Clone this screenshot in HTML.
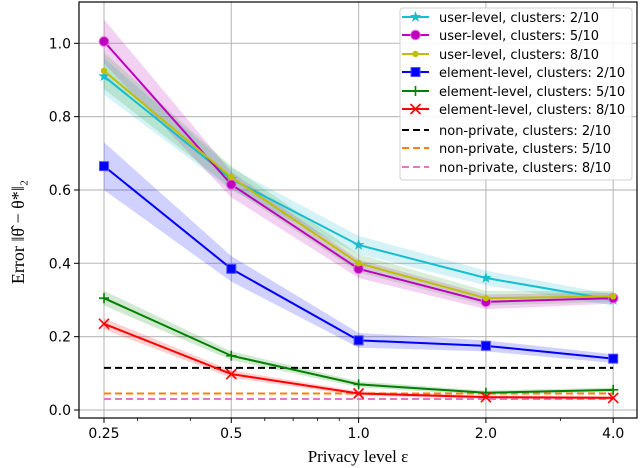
<!DOCTYPE html>
<html><head><meta charset="utf-8"><style>
body{margin:0;background:#fff}
svg{display:block;font-family:"DejaVu Sans","Liberation Sans",sans-serif}
</style></head><body>
<svg id="c" width="640" height="468" viewBox="0 0 640 468"></svg>
<script>
const xVals=[0.25,0.5,1.0,2.0,4.0];
const xTickLabels=["0.25","0.5","1.0","2.0","4.0"];
const yTicks=[0,0.2,0.4,0.6,0.8,1.0];
const yTickLabels=["0.0","0.2","0.4","0.6","0.8","1.0"];
const userL2=[0.91,0.63,0.45,0.36,0.30];
const userL5=[1.005,0.615,0.385,0.295,0.305];
const userL8=[0.925,0.635,0.40,0.305,0.31];
const elem2=[0.665,0.385,0.19,0.175,0.14];
const elem5=[0.305,0.148,0.07,0.047,0.055];
const elem8=[0.235,0.098,0.045,0.035,0.033];
const bandUser=[0.05,0.03,0.025,0.02,0.015];
const bandUser5=[0.06,0.035,0.025,0.02,0.015];
const bandElem2=[0.065,0.035,0.02,0.015,0.012];
const bandElem5=[0.02,0.012,0.008,0.006,0.006];
const bandElem8=[0.015,0.01,0.006,0.005,0.005];
const nonPrivate=[0.115,0.045,0.03];
const legendLabels=["user-level, clusters: 2/10","user-level, clusters: 5/10","user-level, clusters: 8/10","element-level, clusters: 2/10","element-level, clusters: 5/10","element-level, clusters: 8/10","non-private, clusters: 2/10","non-private, clusters: 5/10","non-private, clusters: 8/10"];

const NS="http://www.w3.org/2000/svg";
const svg=document.getElementById('c');
const L=79,R=637,T=2,B=418;
const X=v=>104+127.3*Math.log2(v/0.25);
const Y=v=>410-366.7*v;
function mk(tag,at,parent){const e=document.createElementNS(NS,tag);for(const k in at)e.setAttribute(k,at[k]);(parent||svg).appendChild(e);return e;}

xVals.forEach((v,i)=>{const g=mk('line',{x1:X(v),x2:X(v),y1:T,y2:B,stroke:'#b0b0b0','stroke-width':1.2,opacity:0.8});

});
yTicks.forEach(v=>{const g=mk('line',{x1:L,x2:R,y1:Y(v),y2:Y(v),stroke:'#b0b0b0','stroke-width':1.2,opacity:0.8});

});

const series=[
 {d:userL2,b:bandUser,c:'#17becf',m:'star',name:'user-level-2'},
 {d:userL5,b:bandUser5,c:'#bf00bf',m:'circle',name:'user-level-5'},
 {d:userL8,b:bandUser,c:'#bfbf00',m:'dot',name:'user-level-8'},
 {d:elem2,b:bandElem2,c:'#0000ff',m:'square',name:'element-level-2'},
 {d:elem5,b:bandElem5,c:'#008000',m:'plus',name:'element-level-5'},
 {d:elem8,b:bandElem8,c:'#ff0000',m:'x',name:'element-level-8'}];
const bandColors=['#17becf','#bf00bf','#2ca02c','#0000ff','#008000','#ff0000'];
series.forEach((s,k)=>{
 let up=s.d.map((v,i)=>X(xVals[i])+','+Y(v+s.b[i]));
 let lo=s.d.map((v,i)=>X(xVals[i])+','+Y(v-s.b[i])).reverse();
 const p=mk('polygon',{points:up.concat(lo).join(' '),fill:bandColors[k],opacity:0.18});
 
 
});
const npColors=['#000000','#ff7f0e','#e377c2'];
nonPrivate.forEach((v,i)=>{const l=mk('line',{x1:X(xVals[0]),x2:X(xVals[4]),y1:Y(v),y2:Y(v),stroke:npColors[i],'stroke-width':2,'stroke-dasharray':'7,4'});

});

function marker(g,type,x,y,c,sz){
 sz=sz||1;
 if(type==='star'){let pts=[];for(let i=0;i<10;i++){const r=(i%2?2.4:6)*sz,a=-Math.PI/2+i*Math.PI/5;pts.push((x+r*Math.cos(a))+','+(y+r*Math.sin(a)));}mk('polygon',{points:pts.join(' '),fill:c},g);}
 else if(type==='circle')mk('circle',{cx:x,cy:y,r:4.8*sz,fill:c,stroke:'#e070e0','stroke-width':1},g);
 else if(type==='dot')mk('circle',{cx:x,cy:y,r:3.2*sz,fill:c},g);
 else if(type==='square')mk('rect',{x:x-4.5*sz,y:y-4.5*sz,width:9*sz,height:9*sz,fill:c,stroke:'#5050ff','stroke-width':1},g);
 else if(type==='plus'){mk('line',{x1:x-5*sz,x2:x+5*sz,y1:y,y2:y,stroke:c,'stroke-width':1.6},g);mk('line',{x1:x,x2:x,y1:y-5*sz,y2:y+5*sz,stroke:c,'stroke-width':1.6},g);}
 else if(type==='x'){const r=5*sz;mk('line',{x1:x-r,x2:x+r,y1:y-r,y2:y+r,stroke:c,'stroke-width':1.6},g);mk('line',{x1:x-r,x2:x+r,y1:y+r,y2:y-r,stroke:c,'stroke-width':1.6},g);}
}
series.forEach(s=>{
 const g=mk('g',{});
 
 
 mk('polyline',{points:s.d.map((v,i)=>X(xVals[i])+','+Y(v)).join(' '),fill:'none',stroke:s.c,'stroke-width':2},g);
 s.d.forEach((v,i)=>marker(g,s.m,X(xVals[i]),Y(v),s.c));
});

const f=mk('rect',{x:L,y:T,width:R-L,height:B-T,fill:'none',stroke:'#000','stroke-width':1.2});


xVals.forEach((v,i)=>{mk('line',{x1:X(v),x2:X(v),y1:B,y2:B+5,stroke:'#000'});
 const t=mk('text',{x:X(v),y:B+20,'text-anchor':'middle','font-size':14});t.textContent=xTickLabels[i];
 
 });
[0.3,0.4,0.6,0.7,0.8,0.9,3].forEach(v=>mk('line',{x1:X(v),x2:X(v),y1:B,y2:B+3,stroke:'#000','stroke-width':0.8}));
yTicks.forEach((v,i)=>{mk('line',{x1:L-5,x2:L,y1:Y(v),y2:Y(v),stroke:'#000'});
 const t=mk('text',{x:L-8,y:Y(v)+5,'text-anchor':'end','font-size':14});t.textContent=yTickLabels[i];
 
 });
const xl=mk('text',{x:358,y:462,'text-anchor':'middle','font-size':17,'font-family':'Liberation Serif,serif'});xl.textContent='Privacy level ε';


const yl=mk('text',{x:0,y:0,'text-anchor':'middle','font-size':18,'font-family':'Liberation Serif,serif',transform:'translate(24,232) rotate(-90)'});yl.textContent='Error ‖θ̂ − θ*‖₂';



const lg=mk('g',{});


mk('rect',{x:400,y:8,width:232,height:172,rx:3,fill:'#fff','fill-opacity':0.85,stroke:'#d0d0d0'},lg);
const rowsY=[17,35,54,72,91,109,130,148,167];
legendLabels.forEach((lab,i)=>{
 const y=rowsY[i];
 const e=mk('g',{},lg);
 
 
 if(i<6){mk('line',{x1:402,x2:429,y1:y,y2:y,stroke:series[i].c,'stroke-width':2},e);marker(e,series[i].m,415.5,y,series[i].c);}
 else mk('line',{x1:402,x2:429,y1:y,y2:y,stroke:npColors[i-6],'stroke-width':2,'stroke-dasharray':'7,4'},e);
 const t=mk('text',{x:439,y:y+5,'font-size':13},e);t.textContent=lab;
});
</script>
</body></html>
